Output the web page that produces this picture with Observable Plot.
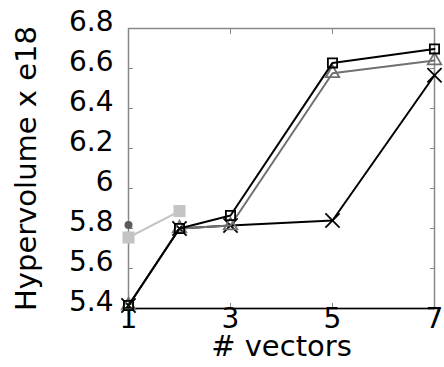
<!DOCTYPE html>
<html>
<head>
<meta charset="utf-8">
<script src="https://cdn.jsdelivr.net/npm/d3@7"></script>
<script src="https://cdn.jsdelivr.net/npm/@observablehq/plot@0.6"></script>
<style>
  html, body { margin: 0; padding: 0; background: #fff; }
  svg { display: block; }
</style>
</head>
<body>
<div id="chart"></div>
<script>
// Number of vectors on the x axis
const vectors = [1, 2, 3, 5, 7];
// Hypervolume (x e18) for each of the three methods
const squareValues = [5.415, 5.80, 5.865, 6.628, 6.698];
const triangleValues = [5.415, 5.80, 5.815, 6.576, 6.64];
const crossValues = [5.415, 5.80, 5.815, 5.84, 6.566];
// Reference runs
const refVectors = [1, 2];
const refValues = [5.755, 5.887];
const baseVector = [1];
const baseValue = [5.817];

// Axis ticks
const xTicks = [1, 3, 5, 7];
const yTicks = [5.4, 5.6, 5.8, 6.0, 6.2, 6.4, 6.6, 6.8];
const xInner = [3, 5];
const yInner = [5.6, 5.8, 6.0, 6.2, 6.4, 6.6];

const toRows = (xs, ys) => xs.map((x, i) => ({x, y: ys[i]}));
const squares = toRows(vectors, squareValues);
const triangles = toRows(vectors, triangleValues);
const crosses = toRows(vectors, crossValues);
const refs = toRows(refVectors, refValues);
const base = toRows(baseVector, baseValue);

const gray = "#888";
const font = "DejaVu Sans, sans-serif";

const chart = Plot.plot({
  width: 444,
  height: 367,
  marginLeft: 128,
  marginRight: 10,
  marginTop: 28,
  marginBottom: 59,
  style: {fontFamily: font, background: "#fff", overflow: "visible"},
  x: {domain: [1, 7], axis: null},
  y: {domain: [5.4, 6.8], axis: null},
  marks: [
    // frame: gray sides, black baseline
    Plot.frame({stroke: gray, strokeWidth: 1.5}),
    Plot.ruleY([5.4], {stroke: "black", strokeWidth: 1.5}),
    // inward tick marks on all four sides
    Plot.axisY(yInner, {anchor: "left", tickSize: -5, stroke: gray, fill: "none", label: null}),
    Plot.axisY(yInner, {anchor: "right", tickSize: -5, stroke: gray, fill: "none", label: null}),
    Plot.axisX(xInner, {anchor: "bottom", tickSize: -5, stroke: gray, fill: "none", label: null}),
    Plot.axisX(xInner, {anchor: "top", tickSize: -5, stroke: gray, fill: "none", label: null}),
    // tick labels
    Plot.axisY(yTicks, {anchor: "left", tickSize: 0, tickPadding: 15, fontSize: 28, dy: -6,
      fill: "black", label: null, tickFormat: d => d3.format("~g")(d)}),
    Plot.axisX(xTicks, {anchor: "bottom", tickSize: 0, tickPadding: 0, fontSize: 28,
      fill: "black", label: null, tickFormat: d => String(d)}),
    // axis titles
    Plot.text(["# vectors"], {frameAnchor: "bottom", textAnchor: "middle", lineAnchor: "middle",
      dy: 38, fontSize: 29, fill: "black"}),
    Plot.text(["Hypervolume x e18"], {frameAnchor: "left", textAnchor: "middle", lineAnchor: "middle",
      rotate: -90, dx: -102, fontSize: 29, fill: "black"}),
    // reference runs
    Plot.line(refs, {x: "x", y: "y", stroke: "#c4c4c4", strokeWidth: 2}),
    Plot.dot(refs, {x: "x", y: "y", symbol: "square", r: 6.8, fill: "#c4c4c4", stroke: "none"}),
    Plot.dot(base, {x: "x", y: "y", symbol: "circle", r: 4, fill: "#5a5a5a", stroke: "none"}),
    // method series
    Plot.line(crosses, {x: "x", y: "y", stroke: "black", strokeWidth: 2}),
    Plot.dot(crosses, {x: "x", y: "y", symbol: "times", r: 6.5, stroke: "black", strokeWidth: 1.8}),
    Plot.line(triangles, {x: "x", y: "y", stroke: "#707070", strokeWidth: 2}),
    Plot.dot(triangles, {x: "x", y: "y", symbol: "triangle", r: 5, stroke: "#707070", fill: "none", strokeWidth: 1.8}),
    Plot.line(squares, {x: "x", y: "y", stroke: "black", strokeWidth: 2}),
    Plot.dot(squares, {x: "x", y: "y", symbol: "square", r: 5.2, stroke: "black", fill: "none", strokeWidth: 1.8})
  ]
});

document.getElementById("chart").appendChild(chart);
</script>
</body>
</html>
